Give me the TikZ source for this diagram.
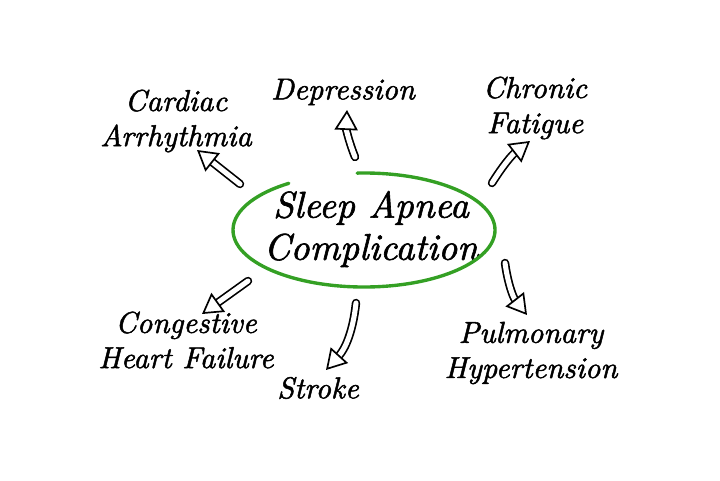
\documentclass[tikz,border=0pt]{standalone}
\usepackage{fontspec}
\newfontfamily\handfont{lmroman10-italic.otf}[FakeBold=1.6]
\usetikzlibrary{arrows.meta,calc}
\definecolor{ringgreen}{RGB}{52,160,36}
\tikzset{
  lbl/.style={font=\handfont\fontsize{21.5}{25}\selectfont, align=center, inner sep=0pt},
  hollow/.style={double=white, double distance=3.6pt, line width=1.2pt, line cap=round,
    -{Triangle[open, length=0.5cm, width=0.58cm, line width=1.2pt, fill=white]}}
}
\begin{document}
\begin{tikzpicture}[x=0.025cm, y=-0.025cm]
			%%%%% FRAME %%%%%
			\useasboundingbox (0, 0) rectangle (720, 480);
			
			%%%%% CENTRE %%%%%
			\node[lbl, font=\handfont\fontsize{26.5}{30}\selectfont] (sa) at (371, 229) {Sleep Apnea\\Complication};
			\draw[ringgreen, line width=2.4pt, line cap=round] ($(364,230)+(267:131 and 57)$) arc[start angle=267, end angle=595, x radius=131, y radius=57];
			
			%%%%% LABELS %%%%%
			\node[lbl] (dep) at (343, 92) {Depression};
			\node[lbl] (car) at (176, 121) {Cardiac\\Arrhythmia};
			\node[lbl] (chr) at (535, 108) {Chronic\\Fatigue};
			\node[lbl] (chf) at (186, 340) {Congestive\\Heart Failure};
			\node[lbl] (str) at (318, 388) {Stroke};
			\node[lbl] (pul) at (531, 353) {Pulmonary\\Hypertension};
			
			%%%%% ARROWS %%%%%
			\coordinate (s1) at (240, 184);
			\coordinate (e1) at (197, 150);
			\coordinate (s2) at (355, 157);
			\coordinate (e2) at (347, 110);
			\coordinate (s3) at (492, 183);
			\coordinate (e3) at (530, 141);
			\coordinate (s4) at (505, 263);
			\coordinate (e4) at (527, 315);
			\coordinate (s5) at (356, 303);
			\coordinate (e5) at (326, 370);
			\coordinate (s6) at (248, 281);
			\coordinate (e6) at (202, 314);
			
			\draw[hollow] (s1) -- (e1);
			\draw[hollow] (s2) to[bend left=12] (e2);
			\draw[hollow] (s3) to[bend left=10] (e3);
			\draw[hollow] (s4) to[bend right=15] (e4);
			\draw[hollow] (s5) to[bend left=18] (e5);
			\draw[hollow] (s6) -- (e6);
		\end{tikzpicture}
\end{document}
